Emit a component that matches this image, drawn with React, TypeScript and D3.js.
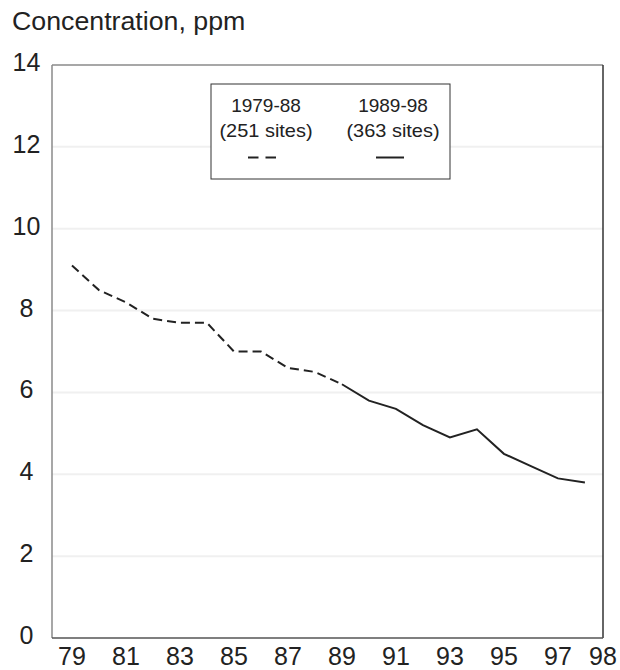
import React from "react";
import * as d3 from "d3";

const yearsEarly = [79, 80, 81, 82, 83, 84, 85, 86, 87, 88, 89];
const valuesEarly = [9.1, 8.5, 8.2, 7.8, 7.7, 7.7, 7.0, 7.0, 6.6, 6.5, 6.2];
const yearsLate = [89, 90, 91, 92, 93, 94, 95, 96, 97, 98];
const valuesLate = [6.2, 5.8, 5.6, 5.2, 4.9, 5.1, 4.5, 4.2, 3.9, 3.8];
const xTicks = [79, 81, 83, 85, 87, 89, 91, 93, 95, 97, 98];
const yTicks = [0, 2, 4, 6, 8, 10, 12, 14];
const legendLabels = [
  ["1979-88", "(251 sites)"],
  ["1989-98", "(363 sites)"],
];

export default function App() {
  const W = 620, H = 670;
  const left = 52, right = 603, top = 65, bottom = 638;
  const x = d3.scaleLinear().domain([78.26, 98.67]).range([left, right]);
  const y = d3.scaleLinear().domain([0, 14]).range([bottom, top]);
  const line = d3.line<[number, number]>().x(d => x(d[0])).y(d => y(d[1]));
  const early = yearsEarly.map((yr, i) => [yr, valuesEarly[i]] as [number, number]);
  const late = yearsLate.map((yr, i) => [yr, valuesLate[i]] as [number, number]);
  const font = "'Liberation Sans', Arial, Helvetica, sans-serif";
  return (
    <svg width={W} height={H} style={{ position: "absolute", left: 0, top: 0, background: "#fff" }} fontFamily={font}>
      <text transform="translate(12,30) scale(1.07,1)" fontSize={25} fill="#222">Concentration, ppm</text>
      {yTicks.filter(t => t > 0 && t < 14).map(t => (
        <line key={t} x1={left} x2={right} y1={y(t)} y2={y(t)} stroke="#f0f0f0" strokeWidth={2} />
      ))}
      <line x1={left} x2={left} y1={top} y2={bottom} stroke="#8a8a8a" strokeWidth={1.5} />
      <line x1={left} x2={right} y1={top} y2={top} stroke="#8a8a8a" strokeWidth={1.5} />
      <line x1={right} x2={right} y1={top} y2={bottom} stroke="#333" strokeWidth={1.5} />
      <line x1={left} x2={right} y1={bottom} y2={bottom} stroke="#555" strokeWidth={1.5} />
      {yTicks.map(t => (
        <text key={t} x={26.5} y={y(t) + 6} fontSize={25} textAnchor="middle" fill="#222">{t}</text>
      ))}
      {xTicks.map((t, i) => (
        <text key={t} x={i === xTicks.length - 1 ? right : x(t)} y={665} fontSize={25} textAnchor="middle" fill="#222">{t}</text>
      ))}
      <path d={line(early) || ""} fill="none" stroke="#222" strokeWidth={2} strokeDasharray="9,5" />
      <path d={line(late) || ""} fill="none" stroke="#222" strokeWidth={2} />
      <rect x={211} y={84} width={239} height={95} fill="#fff" stroke="#333" strokeWidth={1} />
      {legendLabels.map((lab, i) => {
        const cx = i === 0 ? 266 : 393;
        const lx = i === 0 ? 262 : 390;
        return (
          <g key={i}>
            <text x={cx} y={111.5} fontSize={19} textAnchor="middle" fill="#222">{lab[0]}</text>
            <text transform={`translate(${cx},137) scale(1.05,1)`} fontSize={19} textAnchor="middle" fill="#222">{lab[1]}</text>
            <line x1={lx - 14} x2={lx + 14} y1={157.5} y2={157.5} stroke="#222" strokeWidth={2}
              strokeDasharray={i === 0 ? "10.5,7" : undefined} />
          </g>
        );
      })}
    </svg>
  );
}
